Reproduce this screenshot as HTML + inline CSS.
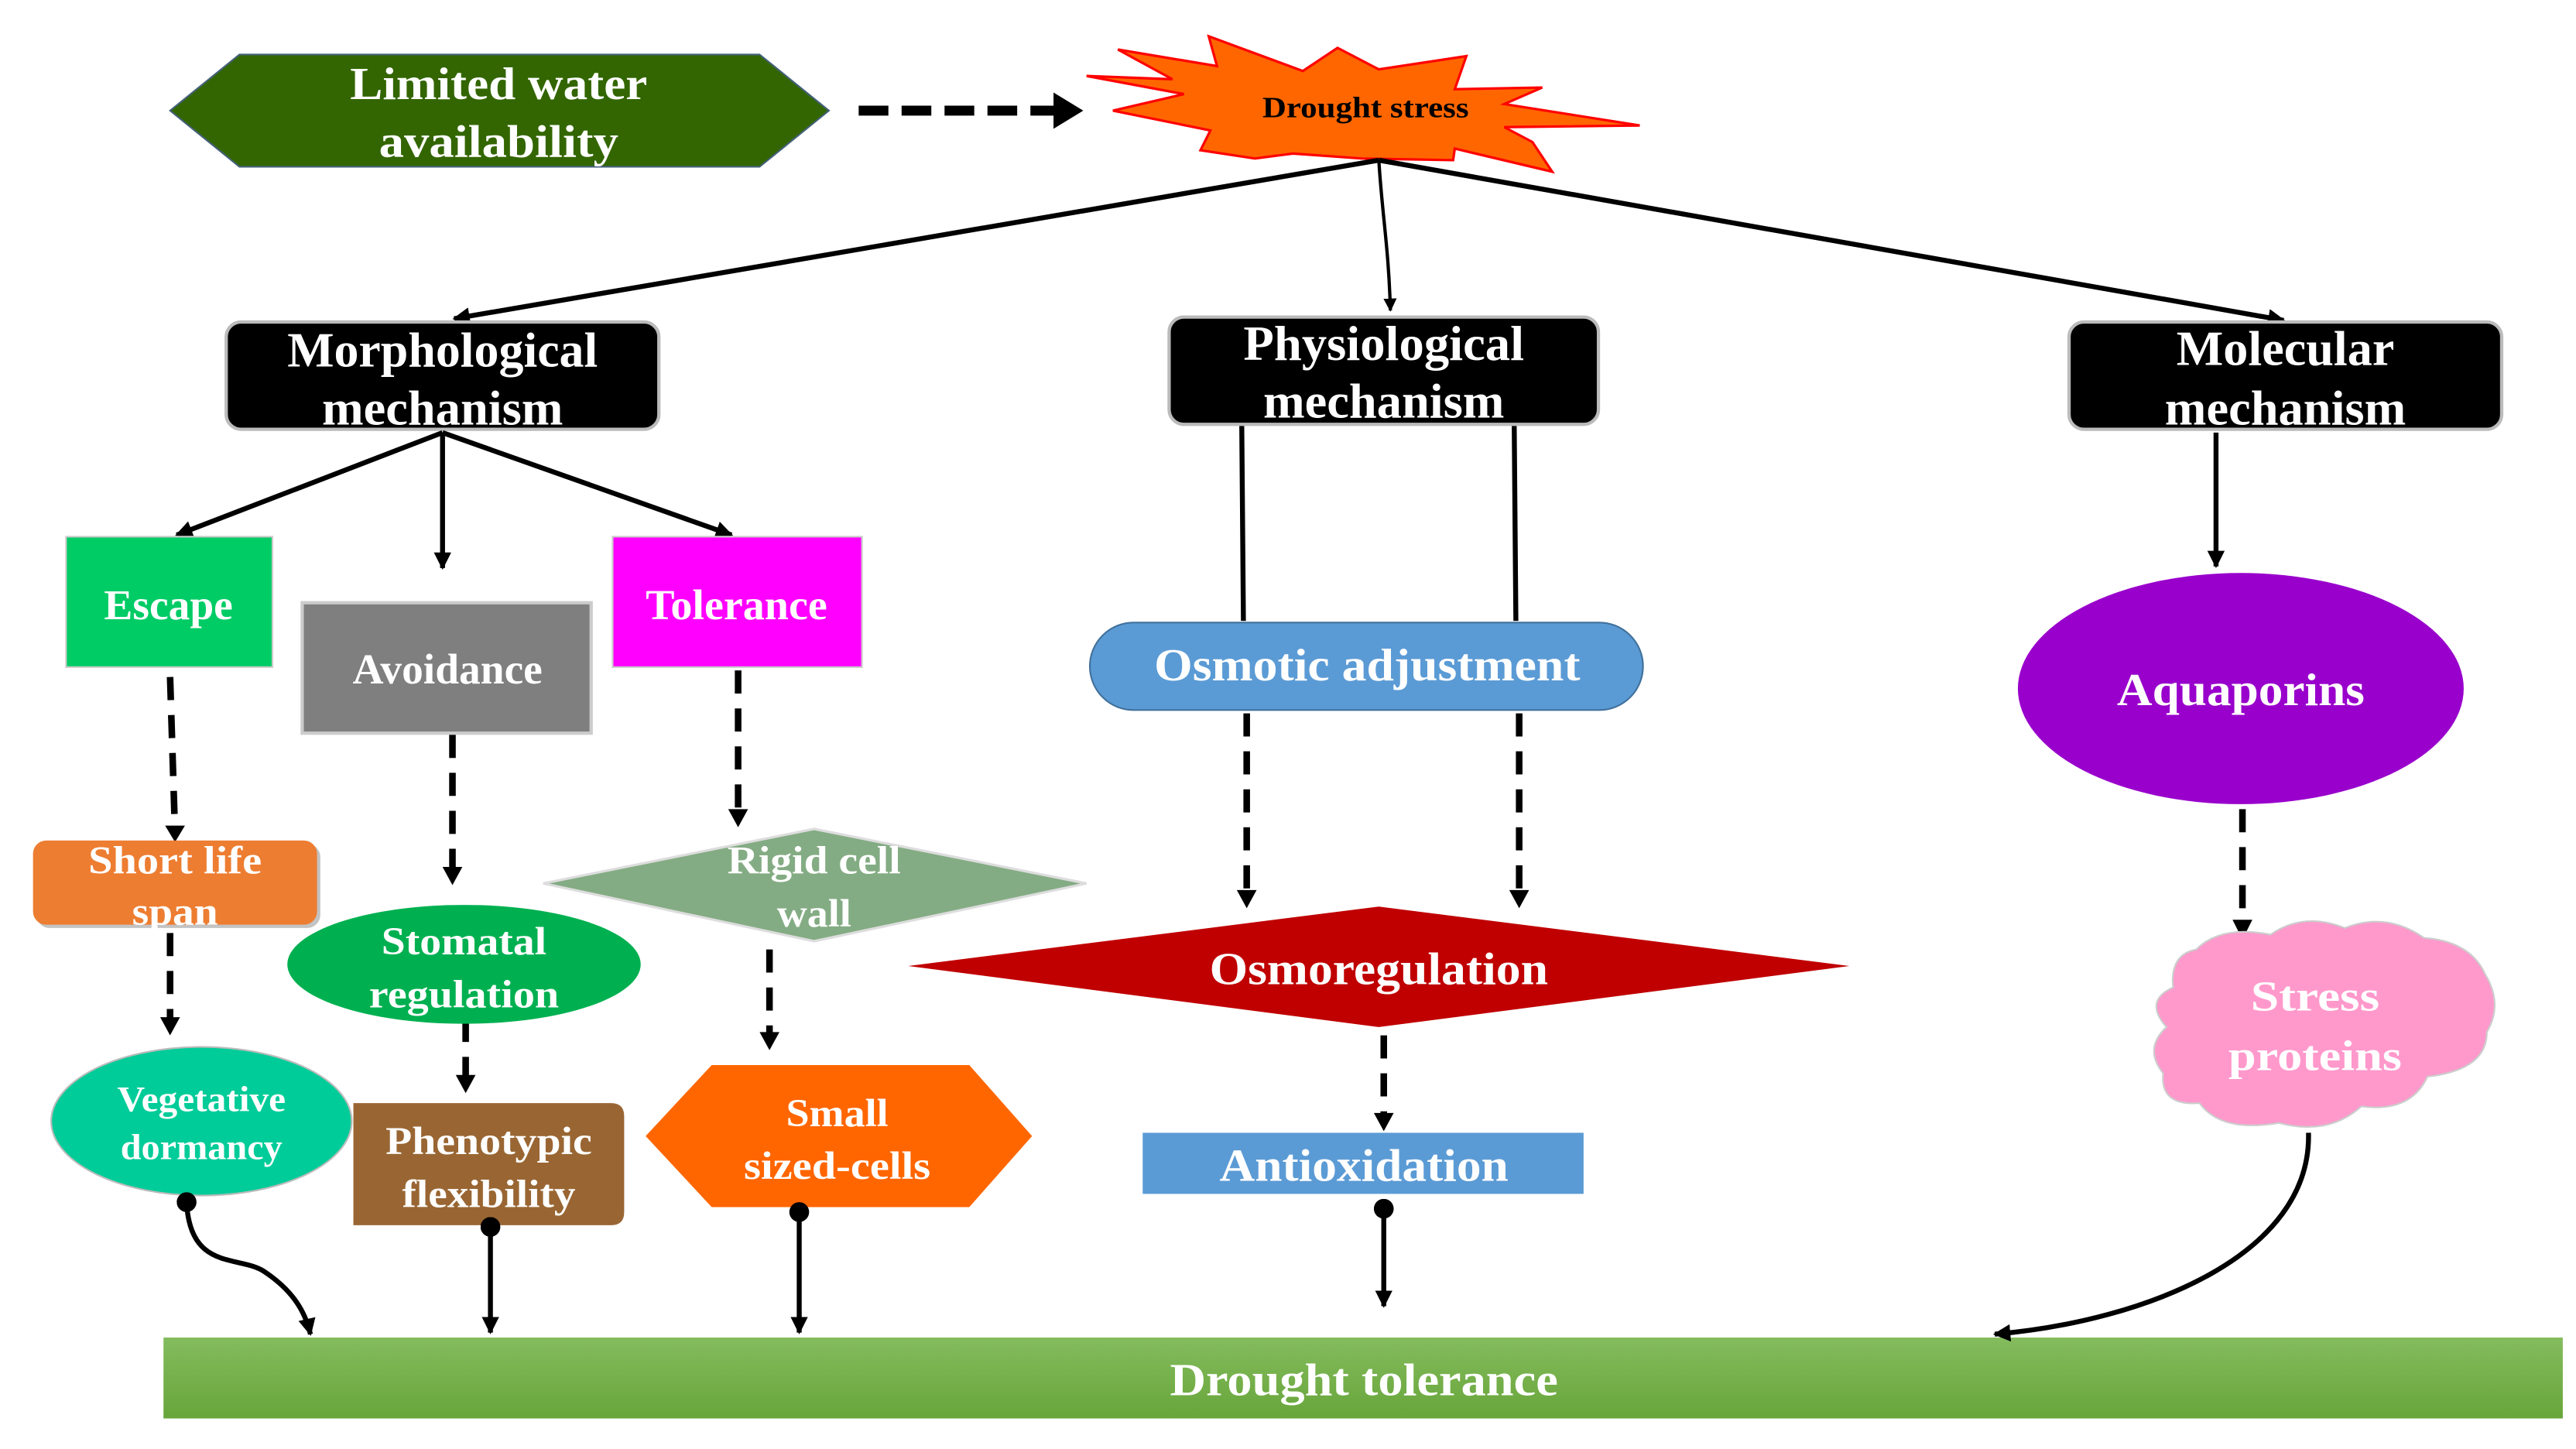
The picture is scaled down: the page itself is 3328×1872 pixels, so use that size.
<!DOCTYPE html>
<html><head><meta charset="utf-8"><style>
html,body{margin:0;padding:0;background:#fff;}
svg{display:block;}
text{font-family:"Liberation Serif",serif;font-weight:bold;fill:#fff;text-anchor:middle;}
</style></head><body>
<svg width="3328" height="1872" viewBox="0 0 1560 877.5" xmlns="http://www.w3.org/2000/svg">
<defs>
<marker id="ah" viewBox="0 0 10 10" refX="9" refY="5" markerWidth="4" markerHeight="4" orient="auto" markerUnits="strokeWidth"><path d="M0,0 L10,5 L0,10 z" fill="#000"/></marker>
<marker id="ah2" viewBox="0 0 10 10" refX="9" refY="5" markerWidth="3.5" markerHeight="3.5" orient="auto" markerUnits="strokeWidth"><path d="M0,0 L10,5 L0,10 z" fill="#000"/></marker>
<marker id="dot" viewBox="0 0 10 10" refX="5" refY="5" markerWidth="4" markerHeight="4" orient="auto" markerUnits="strokeWidth"><circle cx="5" cy="5" r="5" fill="#000"/></marker>
<linearGradient id="gb" x1="0" y1="0" x2="0" y2="1"><stop offset="0" stop-color="#84BC5E"/><stop offset="1" stop-color="#68A53A"/></linearGradient>
</defs>

<polygon points="103,67 145,33 460,33 502,67 460,101 145,101" fill="#336600" stroke="#44617a" stroke-width="1"/>
<text x="302" y="60" font-size="28" textLength="180" lengthAdjust="spacingAndGlyphs">Limited water</text>
<text x="302" y="95" font-size="28" textLength="145" lengthAdjust="spacingAndGlyphs">availability</text>
<line x1="520" y1="67" x2="640" y2="67" stroke="#000" stroke-width="6" stroke-dasharray="18,8"/>
<polygon points="638,56 656,67 638,78" fill="#000"/>

<polygon points="732,22 789,43 810,29 835,42 888,34 881,54 934,53 911,63 993,76 911,77 928,86 940,104 881,90 880,97 825,96 783,93 760,96 727,91 733,79 674,67 717,57 658,46 710,48 677,30 737,40" fill="#FF6600" stroke="#f00" stroke-width="1.5"/>
<text x="827" y="71" font-size="18" style="fill:#000" textLength="125" lengthAdjust="spacingAndGlyphs">Drought stress</text>

<g stroke="#000" fill="none">
<line x1="835" y1="97" x2="275" y2="193" stroke-width="3" marker-end="url(#ah2)"/>
<path d="M835,97 C837,130 841,150 842,188" stroke-width="2" marker-end="url(#ah)"/>
<line x1="835" y1="97" x2="1383" y2="194" stroke-width="3" marker-end="url(#ah2)"/>
</g>

<rect x="137" y="195" width="262" height="65" rx="9" fill="#000" stroke="#bbb" stroke-width="2"/>
<text x="268" y="222" font-size="30" textLength="188" lengthAdjust="spacingAndGlyphs">Morphological</text>
<text x="268" y="257" font-size="30" textLength="146" lengthAdjust="spacingAndGlyphs">mechanism</text>
<rect x="708" y="192" width="260" height="65" rx="9" fill="#000" stroke="#bbb" stroke-width="2"/>
<text x="838" y="218" font-size="30" textLength="170" lengthAdjust="spacingAndGlyphs">Physiological</text>
<text x="838" y="253" font-size="30" textLength="146" lengthAdjust="spacingAndGlyphs">mechanism</text>
<rect x="1253" y="195" width="262" height="65" rx="9" fill="#000" stroke="#bbb" stroke-width="2"/>
<text x="1384" y="221" font-size="30" textLength="132" lengthAdjust="spacingAndGlyphs">Molecular</text>
<text x="1384" y="257" font-size="30" textLength="146" lengthAdjust="spacingAndGlyphs">mechanism</text>

<g stroke="#000" stroke-width="3" fill="none">
<line x1="268" y1="262" x2="107" y2="324" marker-end="url(#ah2)"/>
<line x1="268" y1="262" x2="268" y2="344" marker-end="url(#ah2)"/>
<line x1="268" y1="262" x2="443" y2="324" marker-end="url(#ah2)"/>
</g>

<rect x="40" y="325" width="125" height="79" fill="#00CC66" stroke="#ccc" stroke-width="1"/>
<text x="102" y="375" font-size="26" textLength="78" lengthAdjust="spacingAndGlyphs">Escape</text>
<rect x="183" y="365" width="175" height="79" fill="#7F7F7F" stroke="#ccc" stroke-width="2"/>
<text x="271" y="414" font-size="26" textLength="115" lengthAdjust="spacingAndGlyphs">Avoidance</text>
<rect x="371" y="325" width="151" height="79" fill="#FF00FF" stroke="#ccc" stroke-width="1"/>
<text x="446" y="375" font-size="26" textLength="110" lengthAdjust="spacingAndGlyphs">Tolerance</text>

<g stroke="#000" stroke-width="4" fill="none" stroke-dasharray="14,9">
<line x1="103" y1="410" x2="106" y2="505"/>
<line x1="274" y1="445" x2="274" y2="530"/>
<line x1="447" y1="406" x2="447" y2="495"/>
<line x1="103" y1="565" x2="103" y2="620"/>
<line x1="282" y1="617" x2="282" y2="655"/>
<line x1="466" y1="575" x2="466" y2="630"/>
<line x1="755" y1="432" x2="755" y2="543"/>
<line x1="920" y1="432" x2="920" y2="543"/>
<line x1="838" y1="627" x2="838" y2="678"/>
<line x1="1358" y1="490" x2="1358" y2="562"/>
</g>
<g fill="#000">
<polygon points="100,500 112,500 106,510"/>
<polygon points="268,525 280,525 274,536"/>
<polygon points="441,490 453,490 447,501"/>
<polygon points="97,616 109,616 103,627"/>
<polygon points="276,651 288,651 282,662"/>
<polygon points="460,625 472,625 466,636"/>
<polygon points="749,539 761,539 755,550"/>
<polygon points="914,539 926,539 920,550"/>
<polygon points="832,674 844,674 838,685"/>
<polygon points="1352,557 1364,557 1358,569"/>
</g>

<rect x="22" y="511" width="172" height="51" rx="8" fill="#888" opacity="0.5"/>
<rect x="20" y="509" width="172" height="51" rx="8" fill="#ED7D31"/>
<text x="106" y="529" font-size="24" textLength="105" lengthAdjust="spacingAndGlyphs">Short life</text>
<text x="106" y="560" font-size="24" textLength="52" lengthAdjust="spacingAndGlyphs">span</text>

<ellipse cx="122" cy="679" rx="91" ry="45" fill="#00CC99" stroke="#bbb" stroke-width="1"/>
<text x="122" y="673" font-size="22" textLength="102" lengthAdjust="spacingAndGlyphs">Vegetative</text>
<text x="122" y="702" font-size="22" textLength="98" lengthAdjust="spacingAndGlyphs">dormancy</text>

<ellipse cx="281" cy="584" rx="107" ry="36" fill="#00B050"/>
<text x="281" y="578" font-size="24" textLength="100" lengthAdjust="spacingAndGlyphs">Stomatal</text>
<text x="281" y="610" font-size="24" textLength="115" lengthAdjust="spacingAndGlyphs">regulation</text>

<path d="M214,668 H370 Q378,668 378,676 V734 Q378,742 370,742 H214 Z" fill="#996633"/>
<text x="296" y="699" font-size="24" textLength="125" lengthAdjust="spacingAndGlyphs">Phenotypic</text>
<text x="296" y="731" font-size="24" textLength="105" lengthAdjust="spacingAndGlyphs">flexibility</text>

<polygon points="329,535 493,502 658,535 493,570" fill="#84AC84" stroke="#ddd" stroke-width="1.5"/>
<text x="493" y="529" font-size="24" textLength="105" lengthAdjust="spacingAndGlyphs">Rigid cell</text>
<text x="493" y="561" font-size="24" textLength="45" lengthAdjust="spacingAndGlyphs">wall</text>

<polygon points="391,688 431,645 587,645 625,688 587,731 431,731" fill="#FF6600"/>
<text x="507" y="682" font-size="24" textLength="62" lengthAdjust="spacingAndGlyphs">Small</text>
<text x="507" y="714" font-size="24" textLength="113" lengthAdjust="spacingAndGlyphs">sized-cells</text>

<g stroke="#000" stroke-width="3">
<line x1="752" y1="258" x2="753" y2="376"/>
<line x1="917" y1="258" x2="918" y2="376"/>
<line x1="1342" y1="262" x2="1342" y2="343" marker-end="url(#ah2)"/>
</g>
<rect x="660" y="377" width="335" height="53" rx="26.5" fill="#5B9BD5" stroke="#41719C" stroke-width="1"/>
<text x="828" y="412" font-size="28" textLength="258" lengthAdjust="spacingAndGlyphs">Osmotic adjustment</text>

<polygon points="550,585 835,549 1120,585 835,622" fill="#C00000"/>
<text x="835" y="596" font-size="28" textLength="205" lengthAdjust="spacingAndGlyphs">Osmoregulation</text>

<rect x="692" y="686" width="267" height="37" fill="#5B9BD5"/>
<text x="826" y="715" font-size="28" textLength="175" lengthAdjust="spacingAndGlyphs">Antioxidation</text>

<ellipse cx="1357" cy="417" rx="135" ry="70" fill="#9900CC"/>
<text x="1357" y="427" font-size="28" textLength="150" lengthAdjust="spacingAndGlyphs">Aquaporins</text>

<path d="M1330,575 Q1345,560 1375,566 Q1395,552 1420,562 Q1445,552 1468,568 Q1496,570 1505,590 Q1516,608 1506,625 Q1506,648 1470,652 Q1460,674 1430,670 Q1410,688 1380,680 Q1345,686 1332,668 Q1308,670 1310,650 Q1298,635 1312,622 Q1298,606 1316,598 Q1314,578 1330,575 Z" fill="#FF99CC" stroke="#ccc" stroke-width="1"/>
<text x="1402" y="612" font-size="26" textLength="78" lengthAdjust="spacingAndGlyphs">Stress</text>
<text x="1402" y="648" font-size="26" textLength="105" lengthAdjust="spacingAndGlyphs">proteins</text>

<rect x="99" y="810" width="1453" height="49" fill="url(#gb)"/>
<text x="826" y="845" font-size="28" textLength="235" lengthAdjust="spacingAndGlyphs">Drought tolerance</text>

<g stroke="#000" stroke-width="3" fill="none">
<path d="M113,728 C115,770 145,760 160,770 C178,782 185,795 188,808" marker-start="url(#dot)" marker-end="url(#ah2)"/>
<line x1="297" y1="743" x2="297" y2="807" marker-start="url(#dot)" marker-end="url(#ah2)"/>
<line x1="484" y1="734" x2="484" y2="807" marker-start="url(#dot)" marker-end="url(#ah2)"/>
<line x1="838" y1="732" x2="838" y2="791" marker-start="url(#dot)" marker-end="url(#ah2)"/>
<path d="M1398,686 C1400,760 1300,800 1208,808" marker-end="url(#ah2)"/>
</g>
</svg>
</body></html>
